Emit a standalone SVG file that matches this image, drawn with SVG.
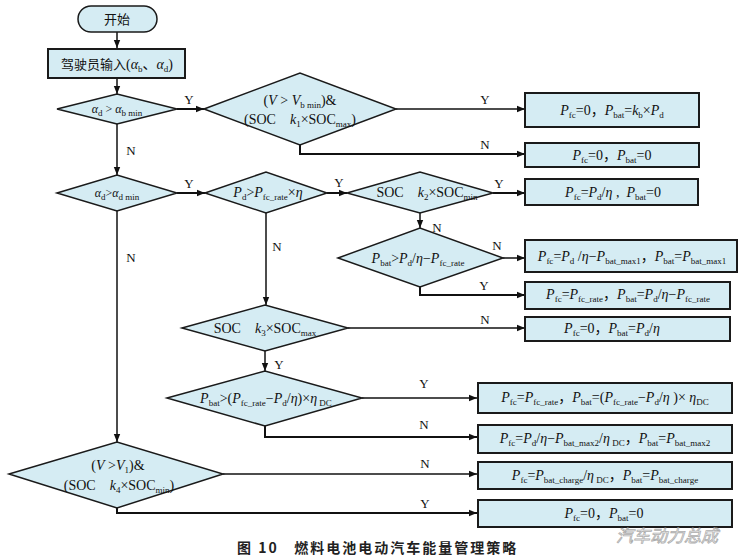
<svg xmlns="http://www.w3.org/2000/svg" width="742" height="560" viewBox="0 0 742 560">
<defs>
<style>
.n{fill:#d5ecf3;stroke:#1a1a1a;stroke-width:1.5}
.b{fill:#d5ecf3;stroke:#1a1a1a;stroke-width:2}
.t{font-family:"Liberation Serif","Times New Roman","Noto Sans CJK SC",serif;font-size:14px;fill:#111;text-anchor:middle}
.sm{font-size:12px}
.i{font-style:italic}
.s{font-size:9px;baseline-shift:-3px}
.c{fill:none;stroke:#111;stroke-width:1.5}
.ck{fill:none;stroke:#111;stroke-width:2}
.l{font-family:"Liberation Serif","Times New Roman",serif;font-size:13px;fill:#111;text-anchor:middle}
</style>
<marker id="a" viewBox="0 0 10 10" refX="10" refY="5" markerWidth="9" markerHeight="8" markerUnits="userSpaceOnUse" orient="auto"><path d="M0,1 L10,5 L0,9 z" fill="#111"/></marker>
</defs>
<rect width="742" height="560" fill="#fff"/>

<g id="connectors">
<path class="c" d="M117,32 V48" marker-end="url(#a)"/>
<path class="c" d="M117,78 V94" marker-end="url(#a)"/>
<path class="ck" d="M177,109 H204" marker-end="url(#a)"/>
<text class="l" x="189" y="104">Y</text>
<path class="c" d="M396,109 H525" marker-end="url(#a)"/>
<text class="l" x="485" y="104">Y</text>
<path class="ck" d="M300,145 V154 H525" marker-end="url(#a)"/>
<text class="l" x="485" y="149">N</text>
<path class="c" d="M117,124 V175" marker-end="url(#a)"/>
<text class="l" x="131" y="155">N</text>
<path class="ck" d="M177,193 H205" marker-end="url(#a)"/>
<text class="l" x="189" y="188">Y</text>
<path class="ck" d="M327,193 H347" marker-end="url(#a)"/>
<text class="l" x="339" y="187">Y</text>
<path class="ck" d="M493,193 H525" marker-end="url(#a)"/>
<text class="l" x="499" y="188">Y</text>
<path class="c" d="M420,213 V228" marker-end="url(#a)"/>
<text class="l" x="437" y="232">N</text>
<path class="c" d="M503,258 H525" marker-end="url(#a)"/>
<text class="l" x="497" y="250">N</text>
<path class="ck" d="M420,287 V295 H525" marker-end="url(#a)"/>
<text class="l" x="484" y="290">Y</text>
<path class="c" d="M266,213 V305" marker-end="url(#a)"/>
<text class="l" x="277" y="251">N</text>
<path class="c" d="M348,328 H525" marker-end="url(#a)"/>
<text class="l" x="485" y="324">N</text>
<path class="c" d="M265,351 V371" marker-end="url(#a)"/>
<text class="l" x="279" y="369">Y</text>
<path class="c" d="M362,398 H477" marker-end="url(#a)"/>
<text class="l" x="424" y="388">Y</text>
<path class="ck" d="M265,426 V437 H477" marker-end="url(#a)"/>
<text class="l" x="424" y="429">N</text>
<path class="c" d="M117,211 V442" marker-end="url(#a)"/>
<text class="l" x="131" y="262">N</text>
<path class="c" d="M223,474 H477" marker-end="url(#a)"/>
<text class="l" x="425" y="468">N</text>
<path class="ck" d="M117,508 V513 H477" marker-end="url(#a)"/>
<text class="l" x="425" y="508">Y</text>
</g>

<g id="start">
<rect class="n" x="78" y="6" width="79" height="26" rx="13"/>
<text class="t" x="117" y="24" style="font-family:'Noto Sans CJK SC',sans-serif;font-size:13px">开始</text>
</g>

<g id="input">
<rect class="b" x="48" y="49" width="137" height="29"/>
<text class="t" x="117" y="69"><tspan style="font-family:'Noto Sans CJK SC',sans-serif;font-size:13px">驾驶员输入</tspan>(<tspan class="i">α</tspan><tspan class="s">b</tspan>、<tspan class="i">α</tspan><tspan class="s">d</tspan>)</text>
</g>

<g id="d1">
<polygon class="n" points="57,109 117,94 177,109 117,124"/>
<text class="t sm" x="117" y="113"><tspan class="i">α</tspan><tspan class="s">d</tspan> &gt; <tspan class="i">α</tspan><tspan class="s">b min</tspan></text>
</g>

<g id="d2">
<polygon class="n" points="204,109 300,73 396,109 300,145"/>
<text class="t" x="300" y="105">(<tspan class="i">V</tspan> &gt; <tspan class="i">V</tspan><tspan class="s">b min</tspan>)&amp;</text>
<text class="t" x="300" y="124">(SOC&#160;&#160;&#160;&#160;<tspan class="i">k</tspan><tspan class="s">1</tspan>×SOC<tspan class="s">max</tspan>)</text>
</g>

<g id="r1">
<rect class="b" x="525" y="93" width="174" height="34"/>
<text class="t" x="612" y="115"><tspan class="i">P</tspan><tspan class="s">fc</tspan>=0，<tspan class="i">P</tspan><tspan class="s">bat</tspan>=<tspan class="i">k</tspan><tspan class="s">b</tspan>×<tspan class="i">P</tspan><tspan class="s">d</tspan></text>
</g>

<g id="r2">
<rect class="b" x="525" y="143" width="174" height="24"/>
<text class="t" x="612" y="160"><tspan class="i">P</tspan><tspan class="s">fc</tspan>=0，<tspan class="i">P</tspan><tspan class="s">bat</tspan>=0</text>
</g>

<g id="d3">
<polygon class="n" points="57,193 117,175 177,193 117,211"/>
<text class="t sm" x="117" y="197"><tspan class="i">α</tspan><tspan class="s">d</tspan>&gt;<tspan class="i">α</tspan><tspan class="s">d min</tspan></text>
</g>

<g id="d4">
<polygon class="n" points="205,193 266,172 327,193 266,213"/>
<text class="t" x="268" y="197"><tspan class="i">P</tspan><tspan class="s">d</tspan>&gt;<tspan class="i">P</tspan><tspan class="s">fc_rate</tspan>×<tspan class="i">η</tspan></text>
</g>

<g id="d5">
<polygon class="n" points="347,193 420,172 493,193 420,213"/>
<text class="t" x="427" y="197">SOC&#160;&#160;&#160;&#160;<tspan class="i">k</tspan><tspan class="s">2</tspan>×SOC<tspan class="s">min</tspan></text>
</g>

<g id="r3">
<rect class="b" x="525" y="179" width="173" height="26"/>
<text class="t" x="613" y="197"><tspan class="i">P</tspan><tspan class="s">fc</tspan>=<tspan class="i">P</tspan><tspan class="s">d</tspan>/<tspan class="i">η</tspan>&#160;,&#160;&#160;<tspan class="i">P</tspan><tspan class="s">bat</tspan>=0</text>
</g>

<g id="d6">
<polygon class="n" points="338,258 420,228 503,258 420,287"/>
<text class="t" x="418" y="263"><tspan class="i">P</tspan><tspan class="s">bat</tspan>&gt;<tspan class="i">P</tspan><tspan class="s">d</tspan>/<tspan class="i">η</tspan>−<tspan class="i">P</tspan><tspan class="s">fc_rate</tspan></text>
</g>

<g id="r4">
<rect class="b" x="525" y="240" width="212" height="32"/>
<text class="t" x="632" y="261"><tspan class="i">P</tspan><tspan class="s">fc</tspan>=<tspan class="i">P</tspan><tspan class="s">d</tspan> /<tspan class="i">η</tspan>−<tspan class="i">P</tspan><tspan class="s">bat_max1</tspan>，<tspan class="i">P</tspan><tspan class="s">bat</tspan>=<tspan class="i">P</tspan><tspan class="s">bat_max1</tspan></text>
</g>

<g id="r5">
<rect class="b" x="525" y="282" width="205" height="27"/>
<text class="t" x="628" y="299"><tspan class="i">P</tspan><tspan class="s">fc</tspan>=<tspan class="i">P</tspan><tspan class="s">fc_rate</tspan>，<tspan class="i">P</tspan><tspan class="s">bat</tspan>=<tspan class="i">P</tspan><tspan class="s">d</tspan>/<tspan class="i">η</tspan>−<tspan class="i">P</tspan><tspan class="s">fc_rate</tspan></text>
</g>

<g id="d7">
<polygon class="n" points="182,328 265,305 348,328 265,351"/>
<text class="t" x="265" y="333">SOC&#160;&#160;&#160;&#160;<tspan class="i">k</tspan><tspan class="s">3</tspan>×SOC<tspan class="s">max</tspan></text>
</g>

<g id="r6">
<rect class="b" x="525" y="317" width="205" height="24"/>
<text class="t" x="612" y="333"><tspan class="i">P</tspan><tspan class="s">fc</tspan>=0，<tspan class="i">P</tspan><tspan class="s">bat</tspan>=<tspan class="i">P</tspan><tspan class="s">d</tspan>/<tspan class="i">η</tspan></text>
</g>

<g id="d8">
<polygon class="n" points="167,398 265,371 362,398 265,426"/>
<text class="t" x="266" y="403"><tspan class="i">P</tspan><tspan class="s">bat</tspan>&gt;(<tspan class="i">P</tspan><tspan class="s">fc_rate</tspan>−<tspan class="i">P</tspan><tspan class="s">d</tspan>/<tspan class="i">η</tspan>)×<tspan class="i">η</tspan><tspan class="s">&#160;DC</tspan></text>
</g>

<g id="r7">
<rect class="b" x="478" y="383" width="254" height="30"/>
<text class="t" x="605" y="402"><tspan class="i">P</tspan><tspan class="s">fc</tspan>=<tspan class="i">P</tspan><tspan class="s">fc_rate</tspan>，<tspan class="i">P</tspan><tspan class="s">bat</tspan>=(<tspan class="i">P</tspan><tspan class="s">fc_rate</tspan>−<tspan class="i">P</tspan><tspan class="s">d</tspan>/<tspan class="i">η</tspan>&#160;)×&#160;<tspan class="i">η</tspan><tspan class="s">DC</tspan></text>
</g>

<g id="r8">
<rect class="b" x="478" y="425" width="254" height="28"/>
<text class="t" x="605" y="443"><tspan class="i">P</tspan><tspan class="s">fc</tspan>=<tspan class="i">P</tspan><tspan class="s">d</tspan>/<tspan class="i">η</tspan>−<tspan class="i">P</tspan><tspan class="s">bat_max2</tspan>/<tspan class="i">η</tspan><tspan class="s">&#160;DC</tspan>，<tspan class="i">P</tspan><tspan class="s">bat</tspan>=<tspan class="i">P</tspan><tspan class="s">bat_max2</tspan></text>
</g>

<g id="d9">
<polygon class="n" points="9,474 117,442 223,474 117,508"/>
<text class="t" x="118" y="470">(<tspan class="i">V</tspan> &gt;<tspan class="i">V</tspan><tspan class="s">1</tspan>)&amp;</text>
<text class="t" x="119" y="490">(SOC&#160;&#160;&#160;&#160;<tspan class="i">k</tspan><tspan class="s">4</tspan>×SOC<tspan class="s">min</tspan>)</text>
</g>

<g id="r9">
<rect class="b" x="478" y="462" width="254" height="27"/>
<text class="t" x="605" y="480"><tspan class="i">P</tspan><tspan class="s">fc</tspan>=<tspan class="i">P</tspan><tspan class="s">bat_charge</tspan>/<tspan class="i">η</tspan><tspan class="s">&#160;DC</tspan>，<tspan class="i">P</tspan><tspan class="s">bat</tspan>=<tspan class="i">P</tspan><tspan class="s">bat_charge</tspan></text>
</g>

<g id="r10">
<rect class="b" x="478" y="500" width="254" height="27"/>
<text class="t" x="604" y="518"><tspan class="i">P</tspan><tspan class="s">fc</tspan>=0，<tspan class="i">P</tspan><tspan class="s">bat</tspan>=0</text>
</g>

<text x="237" y="553" style="font-family:'Noto Sans CJK SC',sans-serif;font-size:14px;font-weight:bold;fill:#222;letter-spacing:2px">图 10&#160;&#160;&#160;燃料电池电动汽车能量管理策略</text>
<text x="616" y="542" style="font-family:'Noto Sans CJK SC',sans-serif;font-size:17px;font-style:italic;fill:#fff;stroke:#999;stroke-width:0.8;opacity:0.8">汽车动力总成</text>
</svg>
